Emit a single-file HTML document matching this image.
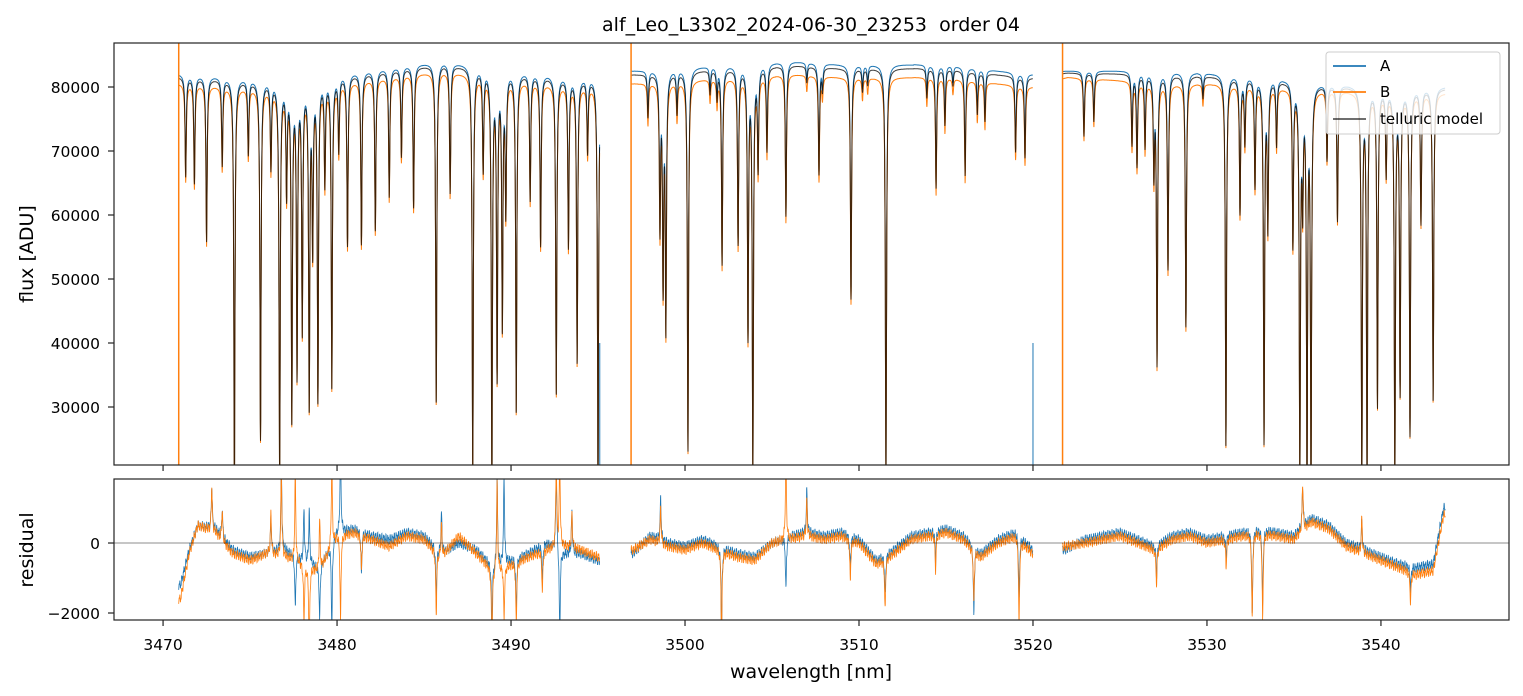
<!DOCTYPE html>
<html><head><meta charset="utf-8"><style>
body{margin:0;background:#fff;}
svg{display:block;font-family:"DejaVu Sans","Liberation Sans",sans-serif;}
</style></head><body>
<svg id="c" width="1523" height="696" viewBox="0 0 1523 696"></svg>
<script>
// ---- data ----
const segments = [[3470.9, 3495.1], [3496.9, 3520.0], [3521.7, 3543.7]];
const contWl = [3471, 3474, 3477, 3480, 3483, 3486, 3489, 3492, 3495, 3497, 3500, 3503, 3506, 3509, 3512, 3515, 3518, 3520, 3522, 3525, 3528, 3531, 3534, 3537, 3540, 3543.7];
const contA  = [82000, 81500, 81000, 82000, 83000, 84000, 83000, 82000, 81500, 82500, 83000, 83500, 84000, 83500, 83500, 83500, 82500, 82000, 82500, 82500, 82500, 82000, 81500, 80500, 80000, 80000];
const contB  = [80500, 80000, 79500, 80500, 81500, 82500, 81500, 80500, 80000, 80500, 81000, 81500, 82000, 81500, 81500, 81500, 80500, 80000, 81500, 81000, 80500, 80500, 80000, 79500, 79000, 79000];
const lineWl  = [3471.3,3471.8,3472.5,3473.4,3474.1,3474.9,3475.6,3476.2,3476.7,3477.1,3477.4,3477.7,3478.0,3478.4,3478.6,3478.9,3479.3,3479.7,3480.1,3480.6,3481.4,3482.2,3483.0,3483.7,3484.4,3485.7,3486.5,3487.8,3488.4,3488.9,3489.2,3489.5,3489.7,3490.3,3491.1,3491.7,3492.6,3493.3,3493.8,3494.4,3495.0,
 3497.87,3498.56,3498.74,3498.9,3499.54,3500.17,3501.44,3501.84,3502.13,3503.05,3503.62,3503.9,3504.2,3504.71,3505.8,3507.0,3507.7,3507.9,3509.54,3510.2,3510.5,3511.55,3513.9,3514.43,3514.94,3515.4,3516.1,3516.8,3517.24,3519.0,3519.54,
 3522.93,3523.5,3525.69,3525.98,3526.44,3526.95,3527.13,3527.76,3528.79,3529.77,3531.09,3531.9,3532.18,3532.76,3533.28,3533.5,3534.0,3534.94,3535.34,3535.5,3535.75,3535.98,3536.9,3537.5,3538.9,3539.2,3539.8,3540.3,3540.8,3541.1,3541.67,3542.3,3543.0];
const lineMin = [66000,65000,56000,68000,18000,70000,25000,68000,18000,64000,28000,35000,42000,30000,55000,31000,65000,33000,70000,55000,55000,57000,62000,68000,60000,30000,62000,18000,66000,18000,34000,42000,60000,29000,62000,55000,32000,55000,37000,70000,18000,
 74800,57200,48300,41600,75200,22800,77800,77000,51400,54500,40000,18000,66100,68600,58400,79000,65000,78000,46000,78000,79000,18000,77000,63100,72800,79000,65300,75000,74000,69700,68900,
 71700,74000,70500,67200,70100,66100,36400,51250,42300,78000,23900,60300,71250,64500,24400,58300,71250,55600,18000,63000,18000,18000,69700,60000,18000,18000,30600,67800,18000,32700,26000,60000,31700];
const resKnotWl = [3471,3471.5,3472,3473,3474,3475,3476,3477,3478,3479,3480,3481,3482,3483,3484,3485,3486,3487,3488,3489,3490,3491,3492,3493,3494,3495,
 3497,3498,3499,3500,3501,3502,3503,3504,3505,3506,3507,3508,3509,3510,3511,3512,3513,3514,3515,3516,3517,3518,3519,3520,
 3521.8,3523,3524,3525,3526,3527,3528,3529,3530,3531,3532,3533,3534,3535,3536,3537,3538,3539,3540,3541,3542,3543,3543.6];
const resA = [-1200,-200,500,400,-200,-400,-300,-200,-500,-700,300,400,200,100,300,200,-300,0,-200,-700,-500,-300,0,-300,-300,-500,
 -300,200,0,-100,100,-100,-300,-400,0,200,300,200,300,100,-500,-200,200,300,400,200,-300,100,300,-200,
 -200,100,200,300,100,-100,200,300,100,200,300,400,300,200,700,500,0,-200,-400,-600,-700,-600,1000];
const resB = [-1600,-300,500,300,-300,-500,-300,-400,-600,-800,200,300,100,-100,200,100,-400,200,-300,-800,-600,-400,-200,-100,-200,-400,
 -200,100,-100,-200,0,-200,-400,-500,0,100,200,100,200,0,-600,-300,100,200,300,100,-400,0,200,-300,
 -100,0,100,200,0,-200,100,200,0,100,200,300,200,100,600,400,-100,-300,-500,-700,-900,-800,800];
const spikeWl = [3472.8,3473.4,3476.2,3476.8,3477.6,3478.1,3478.4,3479.0,3479.7,3480.2,3481.4,3485.7,3486.0,3488.9,3489.2,3489.6,3490.3,3491.8,3492.6,3492.8,3493.5,
 3498.6,3502.1,3505.8,3507.0,3509.5,3511.5,3514.4,3516.6,3519.2,3527.1,3531.1,3532.6,3533.2,3535.5,3538.9,3541.7];
const spikeA  = [1200,800,1000,2500,-1500,1500,1500,-1500,-2500,2500,-1200,-1500,1200,-1800,2500,2500,-1500,-1000,2500,-2500,1200,
 1200,-2500,-1500,1200,-1000,-1200,-900,-2000,-1800,-900,-600,-2500,-2200,1200,800,-700];
const spikeB  = [1300,900,1200,2500,2500,-1600,-2500,1500,2500,-2500,-1000,-1800,1000,-2500,2500,-1500,-1800,-1200,2500,2500,1000,
 1000,-2500,2500,1000,-1200,-1500,-1000,-1500,-2500,-1000,-800,-2500,-2500,1400,1000,-900];
const xTicks = [3470,3480,3490,3500,3510,3520,3530,3540];
const yTicks = [30000,40000,50000,60000,70000,80000];
const rTicks = [-2000,0];
// ---- axes ----
const X0=114,X1=1509, WL0=3467.18, WL1=3547.36;
const T0=43,T1=465, F0=20937, F1=86875;
const R0=479,R1=620, RV0=-2200, RV1=1829;
const sx=w=>X0+(w-WL0)/(WL1-WL0)*(X1-X0);
const sy=f=>T1-(f-F0)/(F1-F0)*(T1-T0);
const sr=r=>R1-(r-RV0)/(RV1-RV0)*(R1-R0);
const NS='http://www.w3.org/2000/svg';
const svg=document.getElementById('c');
function el(t,a,p){const e=document.createElementNS(NS,t);for(const k in a)e.setAttribute(k,a[k]);(p||svg).appendChild(e);return e;}
function interp(xs,ys,x){if(x<=xs[0])return ys[0];for(let i=1;i<xs.length;i++){if(x<=xs[i]){const t=(x-xs[i-1])/(xs[i]-xs[i-1]);return ys[i-1]+t*(ys[i]-ys[i-1]);}}return ys[ys.length-1];}
function absorb(w){let p=1;for(let i=0;i<lineWl.length;i++){const d=(w-lineWl[i])/0.04;if(Math.abs(d)<40){const depth=1-lineMin[i]/81500;p*=1-Math.min(depth,1)/(1+d*d);}}return p;}
const defs=el('defs',{});
const cp1=el('clipPath',{id:'ct'},defs);el('rect',{x:X0,y:T0,width:X1-X0,height:T1-T0},cp1);
const cp2=el('clipPath',{id:'cr'},defs);el('rect',{x:X0,y:R0,width:X1-X0,height:R1-R0},cp2);
const gT=el('g',{'clip-path':'url(#ct)'});
const gR=el('g',{'clip-path':'url(#cr)'});
function series(fn,color,w,g,name){
 segments.forEach(s=>{let pts=[];for(let x=s[0];x<=s[1];x+=0.01)pts.push(sx(x).toFixed(1)+','+fn(x).toFixed(1));
 const pl=el('polyline',{points:pts.join(' '),fill:'none',stroke:color,'stroke-width':w},g);
 
 });
}
series(w=>sy(interp(contWl,contA,w)*absorb(w)),'#1f77b4',1,gT,'series-a');
series(w=>sy(interp(contWl,contB,w)*absorb(w)),'#ff7f0e',1,gT,'series-b');
series(w=>sy((interp(contWl,contA,w)*0.7+interp(contWl,contB,w)*0.3)*absorb(w)),'rgba(0,0,0,0.75)',1,gT,'telluric-model');
[segments[0][0],segments[1][0],segments[2][0]].forEach(w=>{const l=el('line',{x1:sx(w),x2:sx(w),y1:T0,y2:T1,stroke:'#ff7f0e','stroke-width':1.5},gT);});
[segments[0][1],segments[1][1]].forEach(w=>{const l=el('line',{x1:sx(w),x2:sx(w),y1:sy(40000),y2:T1,stroke:'#1f77b4','stroke-width':1},gT);});
function resFn(vals,sp){return w=>{let v=interp(resKnotWl,vals,w);v+=90*Math.sin(w*53)+60*Math.sin(w*131);for(let i=0;i<spikeWl.length;i++){const d=(w-spikeWl[i])/0.035;v+=sp[i]/(1+d*d);}return sr(v);};}
series(resFn(resA,spikeA),'#1f77b4',0.8,gR,'residual-a');
series(resFn(resB,spikeB),'#ff7f0e',0.8,gR,'residual-b');
const zl=el('line',{x1:X0,x2:X1,y1:sr(0),y2:sr(0),stroke:'#000','stroke-width':0.7,opacity:0.6});
[[T0,T1,'flux-axes-frame'],[R0,R1,'residual-axes-frame']].forEach(f=>{const r=el('rect',{x:X0,y:f[0],width:X1-X0,height:f[1]-f[0],fill:'none',stroke:'#222','stroke-width':1.2});});
xTicks.forEach(v=>{const x=sx(v);el('line',{x1:x,x2:x,y1:T1,y2:T1+6,stroke:'#222','stroke-width':1.2});el('line',{x1:x,x2:x,y1:R1,y2:R1+6,stroke:'#222','stroke-width':1.2});
 const t=el('text',{x:x,y:R1+30,'font-size':15.5,'text-anchor':'middle'});t.textContent=v;});
yTicks.forEach(v=>{const y=sy(v);el('line',{x1:X0-6,x2:X0,y1:y,y2:y,stroke:'#222','stroke-width':1.2});
 const t=el('text',{x:X0-14,y:y+6,'font-size':15.5,'text-anchor':'end'});t.textContent=v;});
rTicks.forEach(v=>{const y=sr(v);el('line',{x1:X0-6,x2:X0,y1:y,y2:y,stroke:'#222','stroke-width':1.2});
 const t=el('text',{x:X0-14,y:y+6,'font-size':15.5,'text-anchor':'end'});t.textContent=v<0?'\u2212'+(-v):v;});
function txt(s,a,name){const t=el('text',a);t.textContent=s;return t;}
txt('alf_Leo_L3302_2024-06-30_23253\u00a0 order 04',{x:811,y:31,'font-size':19,'text-anchor':'middle'},'chart-title');
txt('wavelength [nm]',{x:811,y:678,'font-size':19,'text-anchor':'middle'},'x-axis-title');
txt('flux [ADU]',{x:33,y:254,'font-size':19,'text-anchor':'middle',transform:'rotate(-90 33 254)'},'y-axis-title');
txt('residual',{x:33,y:550,'font-size':19,'text-anchor':'middle',transform:'rotate(-90 33 550)'},'residual-axis-title');
const lg=el('g',{});
el('rect',{x:1326,y:52,width:174,height:82,rx:3,fill:'rgba(255,255,255,0.8)',stroke:'#ccc'},lg);
[['A','#1f77b4',66],['B','#ff7f0e',92],['telluric model','rgba(0,0,0,0.65)',119]].forEach(e=>{
 const g=el('g',{},lg);
 el('line',{x1:1333,x2:1366,y1:e[2],y2:e[2],stroke:e[1],'stroke-width':1.8},g);
 const t=el('text',{x:1380,y:e[2]+5,'font-size':15},g);t.textContent=e[0];});
</script>
</body></html>
